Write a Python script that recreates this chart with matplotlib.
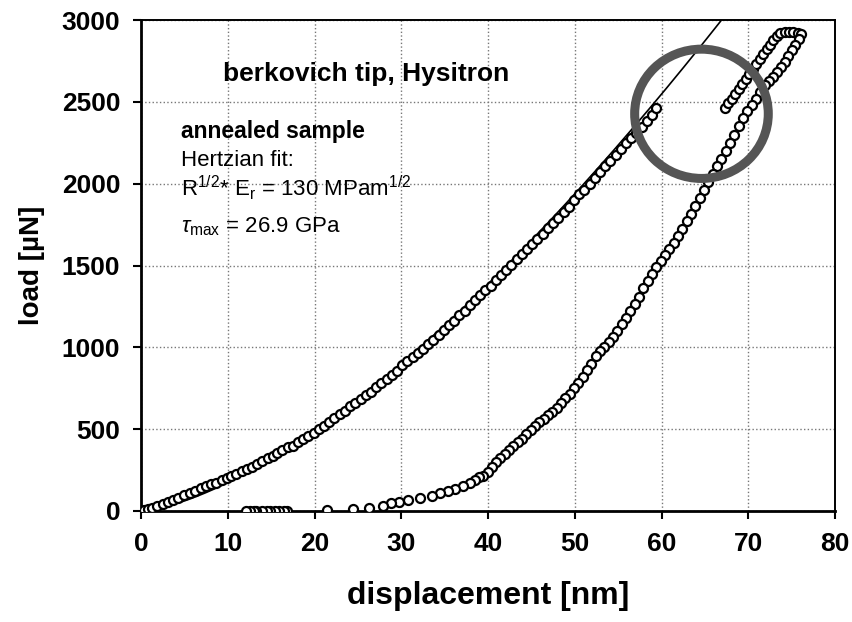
import matplotlib

matplotlib.use("Agg")
import matplotlib.pyplot as plt
from matplotlib.patches import Ellipse
import numpy as np

plt.rcParams["font.family"] = ["Liberation Sans", "DejaVu Sans"]
plt.rcParams["mathtext.fontset"] = "custom"
plt.rcParams["mathtext.rm"] = "Liberation Sans"
plt.rcParams["mathtext.it"] = "Liberation Sans:italic"

# loading branch, before the pop-in
load_h = [0.0, 0.4, 0.8, 1.3, 1.9, 2.5, 3.1, 3.7, 4.3, 5.0, 5.6, 6.2, 6.9, 7.5, 8.1,
          8.6, 9.3, 9.9, 10.4, 11.0, 11.6, 12.2, 12.8, 13.4, 14.0, 14.6, 15.2, 15.7,
          16.3, 16.9, 17.5, 18.1, 18.7, 19.3, 19.9, 20.5, 21.1, 21.7, 22.3, 22.9,
          23.5, 24.1, 24.7, 25.3, 25.9, 26.5, 27.1, 27.7, 28.3, 28.9, 29.5, 30.1,
          30.7, 31.3, 31.9, 32.5, 33.1, 33.7, 34.3, 34.9, 35.5, 36.1, 36.7, 37.3,
          37.9, 38.5, 39.1, 39.7, 40.3, 40.9, 41.5, 42.1, 42.7, 43.3, 43.9, 44.5,
          45.1, 45.7, 46.3, 46.9, 47.5, 48.1, 48.7, 49.3, 49.9, 50.5, 51.1, 51.7,
          52.3, 52.9, 53.5, 54.1, 54.7, 55.3, 55.9, 56.5, 57.1, 57.7, 58.3, 58.9, 59.4]
load_p = [0, 5, 12, 20, 28, 40, 52, 67, 80, 95, 110, 122, 140, 150, 163,
          172, 190, 200, 212, 228, 243, 258, 270, 290, 305, 322, 338, 355,
          372, 388, 400, 420, 440, 458, 478, 498, 520, 545, 568, 595,
          612, 640, 662, 684, 708, 730, 755, 782, 808, 833, 858, 890,
          915, 940, 965, 992, 1018, 1045, 1075, 1105, 1135, 1162, 1195, 1225,
          1258, 1288, 1318, 1348, 1375, 1410, 1440, 1470, 1505, 1538, 1570, 1602,
          1630, 1662, 1695, 1728, 1758, 1790, 1828, 1860, 1900, 1935, 1960, 1998,
          2035, 2072, 2105, 2140, 2175, 2212, 2250, 2282, 2310, 2348, 2385, 2420, 2460]

# loading after the pop-in, up to max load
pop_h = [67.3, 67.7, 68.1, 68.5, 68.9, 69.3, 69.7, 70.1, 70.5, 70.9, 71.3, 71.7,
         72.1, 72.5, 72.9, 73.3, 73.7, 74.2, 74.7, 75.2, 75.7, 76.1]
pop_p = [2463, 2490, 2520, 2550, 2580, 2610, 2640, 2670, 2700, 2730, 2760, 2790,
         2820, 2850, 2880, 2905, 2920, 2925, 2925, 2925, 2920, 2915]

# unloading branch
unload_h = [75.8, 75.4, 75.0, 74.6, 74.2, 73.8, 73.3, 72.9, 72.4, 71.9, 71.4, 70.9,
            70.4, 69.9, 69.4, 68.9, 68.4, 67.9, 67.4, 66.9, 66.4, 65.9, 65.4, 64.9,
            64.4, 63.9, 63.4, 62.9, 62.4, 61.9, 61.4, 60.9, 60.4, 59.9, 59.4, 58.9,
            58.4, 57.9, 57.4, 56.9, 56.4, 55.9, 55.4, 54.9, 54.4, 53.9, 53.4, 52.9,
            52.4, 51.9, 51.4, 50.9, 50.4, 49.9, 49.4, 48.9, 48.4, 47.9, 47.4, 46.9,
            46.4, 45.9, 45.4, 44.9, 44.4, 43.9, 43.4, 42.9, 42.4, 41.9, 41.4, 40.9,
            40.4, 40.0, 39.4, 38.9, 38.5, 37.9, 37.1, 36.2, 35.4, 34.5, 33.5, 32.2,
            30.8, 29.7, 28.8, 27.9, 26.3, 24.4, 21.4,
            16.8, 16.5, 15.9, 15.4, 14.9, 14.5, 14.0, 13.3, 13.0, 12.6, 12.1]
unload_p = [2885, 2850, 2815, 2780, 2745, 2712, 2680, 2650, 2625, 2600, 2560, 2520,
            2480, 2445, 2400, 2350, 2300, 2250, 2200, 2150, 2105, 2060, 2010, 1960,
            1910, 1862, 1815, 1770, 1722, 1680, 1640, 1600, 1565, 1530, 1490, 1450,
            1405, 1360, 1310, 1265, 1222, 1180, 1140, 1100, 1062, 1030, 1000, 975,
            950, 900, 860, 820, 785, 750, 715, 688, 660, 632, 605, 585,
            565, 545, 520, 495, 468, 440, 420, 395, 375, 350, 325, 300,
            270, 240, 215, 205, 189, 172, 152, 132, 124, 110, 91, 77,
            67, 55, 49, 32, 20, 12, 6,
            0, 0, 0, 0, 0, 0, 0, 0, 0, 0, 0]

# Hertzian fit parameter R^1/2 * E_r in Pa m^1/2
r_er = 130e6

fig = plt.figure(figsize=(8.53, 6.22), dpi=100)
ax = fig.add_axes([0.1653, 0.1785, 0.8137, 0.7893])

# Hertz: P = 4/3 * R^1/2 E_r * h^3/2  (h in nm -> m, P in N -> uN)
fit_h = np.linspace(0, 80, 400)
fit_p = 4.0 / 3.0 * r_er * (fit_h * 1e-9) ** 1.5 * 1e6
ax.plot(fit_h, fit_p, color="black", lw=1.2, zorder=3)

mk = dict(ls="none", marker="o", ms=6.5, mfc="white", mec="black", mew=1.6, zorder=4)
ax.plot(load_h, load_p, **mk)
ax.plot(pop_h, pop_p, **mk)
ax.plot(unload_h, unload_p, **mk)

ring = Ellipse((64.6, 2427), 15.4, 790, fill=False, edgecolor="#555555", lw=6.5, zorder=5)
ax.add_patch(ring)

ax.set_xlim(0, 80)
ax.set_ylim(0, 3000)
ax.set_xticks(range(0, 81, 10))
ax.set_yticks(range(0, 3001, 500))
ax.grid(True, color="#777777", ls=":", lw=1.0)
ax.set_axisbelow(True)

for s in ["left", "bottom"]:
    ax.spines[s].set_linewidth(2.0)
for s in ["top", "right"]:
    ax.spines[s].set_linewidth(1.4)

ax.tick_params(direction="out", length=6, width=1.5, pad=9)
for lab in ax.get_xticklabels() + ax.get_yticklabels():
    lab.set_fontsize(19)
    lab.set_fontweight("bold")

ax.set_xlabel("displacement [nm]", fontsize=23, fontweight="bold", labelpad=18)
ax.set_ylabel("load [\u00b5N]", fontsize=20, fontweight="bold", labelpad=12)

# annotations
ax.text(9.5, 2630, "berkovich tip, Hysitron", fontsize=19, fontweight="bold")
ax.text(4.6, 2280, "annealed sample", fontsize=16.5, fontweight="bold")
ax.text(4.6, 2110, "Hertzian fit:", fontsize=16)
ax.text(4.6, 1925, r"R$^{1/2}$* E$_{\mathregular{r}}$ = 130 MPam$^{1/2}$", fontsize=16)
ax.text(4.6, 1700, r"$\tau_{\mathregular{max}}$ = 26.9 GPa", fontsize=16)

fig.savefig("out.png", dpi=100)
